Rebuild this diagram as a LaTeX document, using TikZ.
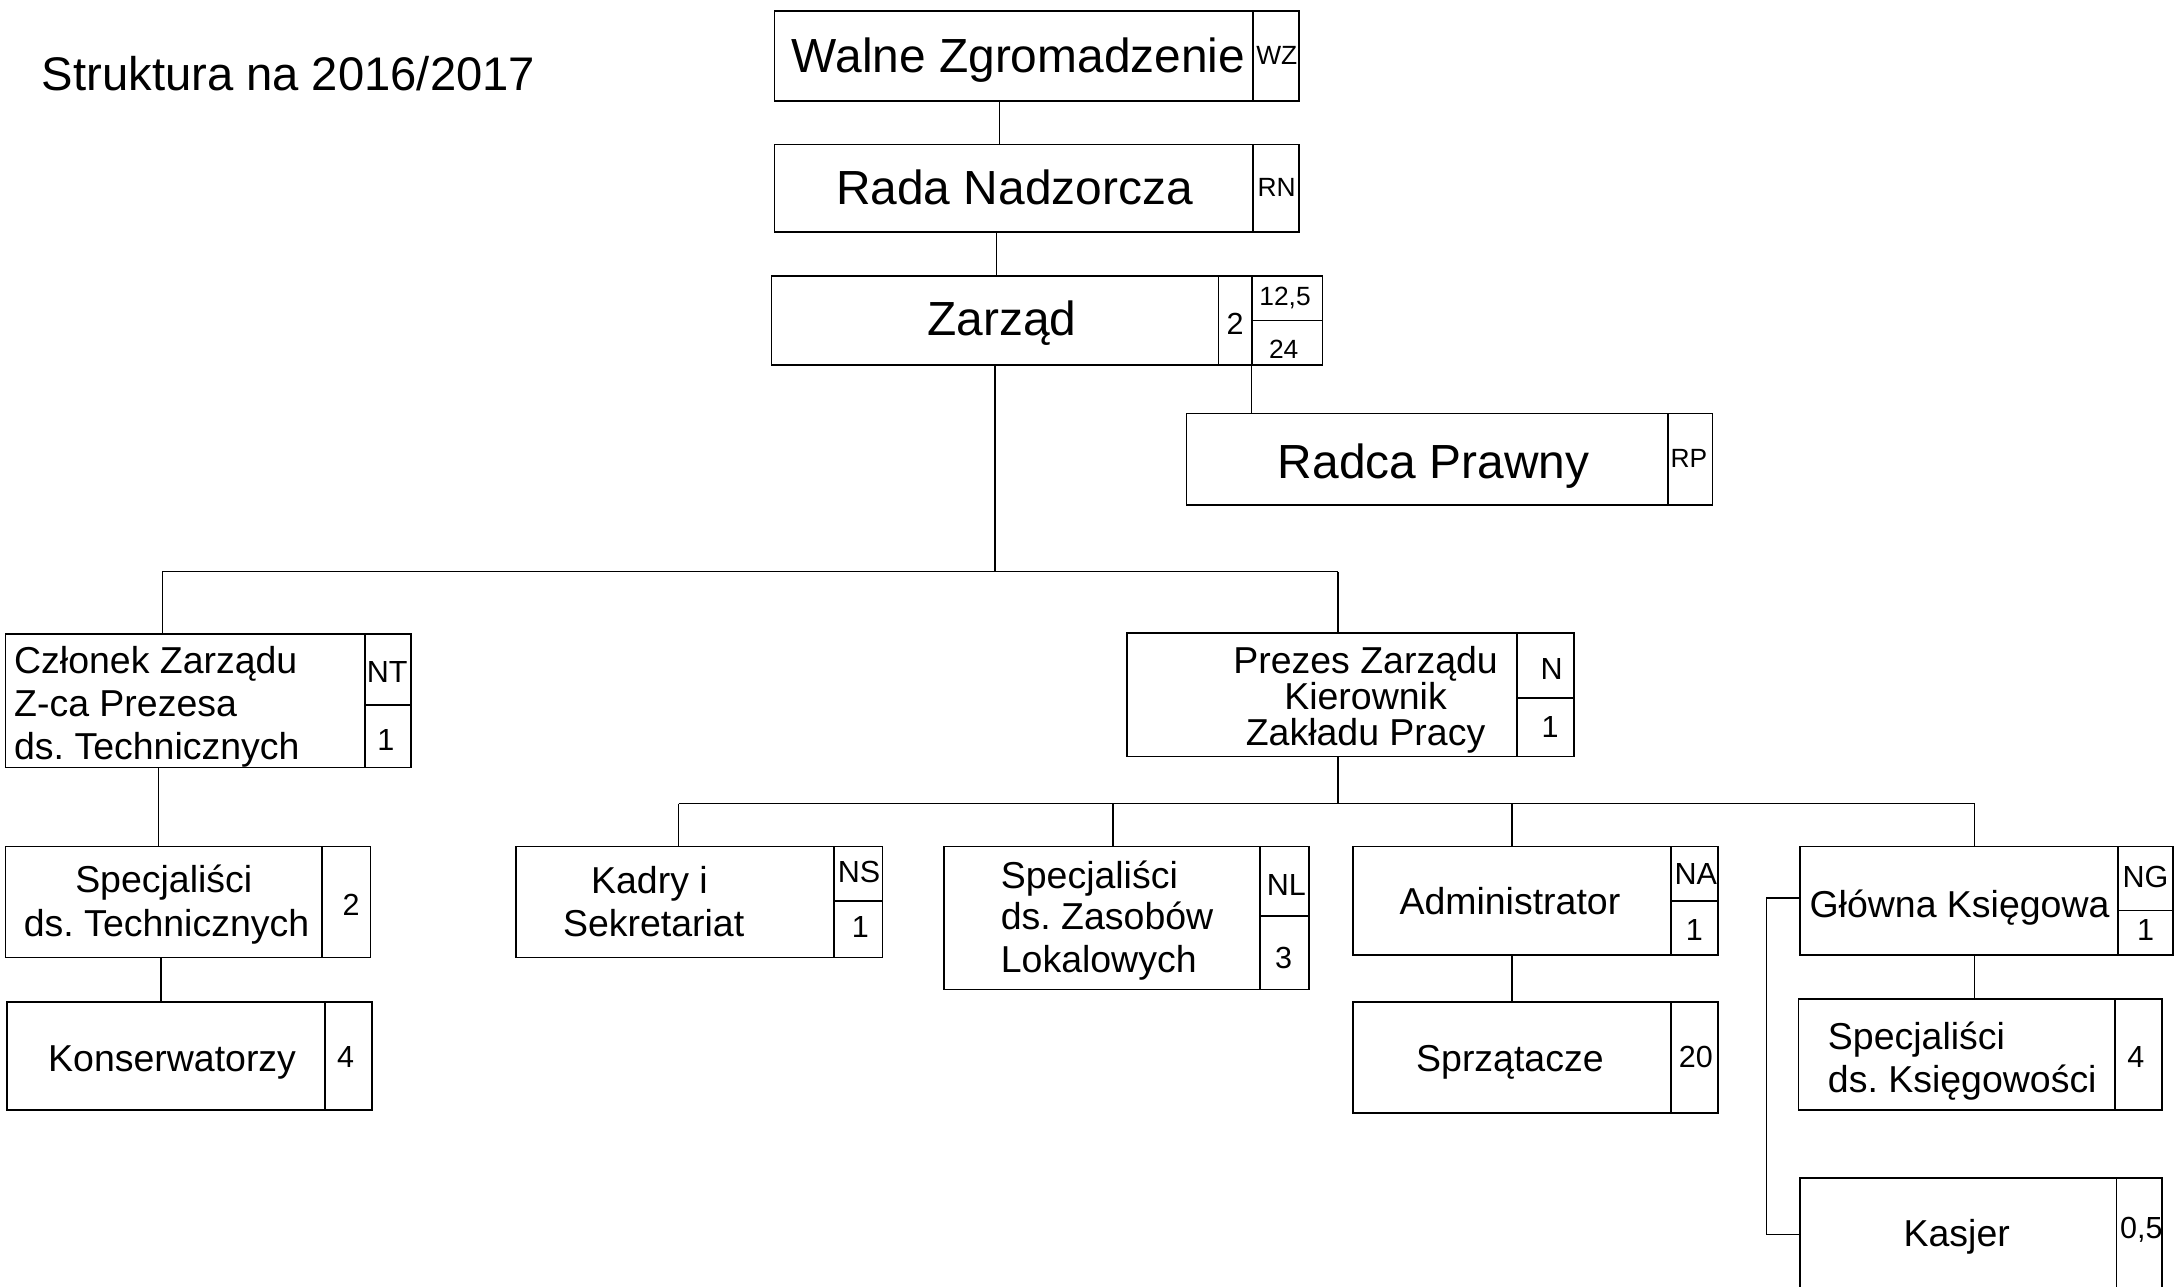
\documentclass[tikz,border=0pt]{standalone}
\usepackage{fontspec}
\setmainfont{Liberation Sans}
\frenchspacing
\tikzset{
  frame/.style={draw, line width=1.2pt, inner sep=0pt, outer sep=0pt, anchor=north west},
  big/.style={font=\fontsize{34.5}{40}\selectfont, inner sep=0pt, anchor=base},
  mid/.style={font=\fontsize{27}{31}\selectfont, inner sep=0pt, anchor=base},
  midl/.style={mid, anchor=base west},
  lab/.style={font=\fontsize{22}{24}\selectfont, inner sep=0pt},
  tinylab/.style={font=\fontsize{19}{21}\selectfont, inner sep=0pt},
  conn/.style={line width=1pt}
}
\newcommand\orgfr[5]{%
  \pgfmathsetmacro\orgfw{#4-#2}\pgfmathsetmacro\orgfh{#5-#3}%
  \node[frame, minimum width=\orgfw pt, minimum height=\orgfh pt] (#1) at (#2,#3) {};}
\begin{document}
\begin{tikzpicture}[x=1pt,y=-1pt]
\useasboundingbox[fill=white] (0,0) rectangle (1568,927);

% title
\node[font=\fontsize{34}{38}\selectfont, anchor=base west, inner sep=0pt] (title) at (30,65) {Struktura na 2016/2017};

% frames
\orgfr{wz}{558}{8}{903}{73}   \orgfr{wzc}{903}{8}{936}{73}
\orgfr{rn}{558}{104}{903}{167} \orgfr{rnc}{903}{104}{936}{167}
\orgfr{zar}{556}{199}{878}{263} \orgfr{zarc}{878}{199}{902}{263}
\orgfr{zart}{902}{199}{953}{231} \orgfr{zarb}{902}{231}{953}{263}
\orgfr{rp}{855}{298}{1202}{364} \orgfr{rpc}{1202}{298}{1234}{364}
\orgfr{nt}{4}{457}{263}{553} \orgfr{ntt}{263}{457}{296}{508} \orgfr{ntb}{263}{508}{296}{553}
\orgfr{n}{812}{456}{1093}{545} \orgfr{nnt}{1093}{456}{1134}{503} \orgfr{nnb}{1093}{503}{1134}{545}
\orgfr{spt}{4}{610}{232}{690} \orgfr{sptc}{232}{610}{267}{690}
\orgfr{kon}{5}{722}{234}{800} \orgfr{konc}{234}{722}{268}{800}
\orgfr{ns}{372}{610}{601}{690} \orgfr{nst}{601}{610}{636}{649} \orgfr{nsb}{601}{649}{636}{690}
\orgfr{nl}{680}{610}{908}{713} \orgfr{nlt}{908}{610}{943}{660} \orgfr{nlb}{908}{660}{943}{713}
\orgfr{na}{975}{610}{1204}{688} \orgfr{nat}{1204}{610}{1238}{649} \orgfr{nab}{1204}{649}{1238}{688}
\orgfr{spr}{975}{722}{1204}{802} \orgfr{sprc}{1204}{722}{1238}{802}
\orgfr{ng}{1297}{610}{1526}{688} \orgfr{ngt}{1526}{610}{1566}{656} \orgfr{ngb}{1526}{656}{1566}{688}
\orgfr{spk}{1296}{720}{1524}{800} \orgfr{spkc}{1524}{720}{1558}{800}
\orgfr{kas}{1297}{849}{1525}{930} \orgfr{kasc}{1525}{849}{1558}{930}

% texts
\node[big] (wzt) at (734,52) {Walne Zgromadzenie};
\node[tinylab] (wzl) at (920,40) {WZ};
\node[big] (rnt) at (731,147) {Rada Nadzorcza};
\node[tinylab] (rnl) at (920,135) {RN};
\node[big] (zart1) at (722,242) {Zarząd};
\node[lab] (zarl) at (890,233) {2};
\node[tinylab] (zarl1) at (926,215) {12,5};
\node[tinylab] (zarl2) at (925,252) {24};
\node[big] (rpt) at (1033,345) {Radca Prawny};
\node[tinylab] (rpl) at (1217,330) {RP};

\node[midl] (ntt1) at (10,485) {Członek Zarządu};
\node[midl] (ntt2) at (10,516) {Z-ca Prezesa};
\node[midl] (ntt3) at (10,547) {ds. Technicznych};
\node[lab] (ntl1) at (279,484) {NT};
\node[lab] (ntl2) at (278,533) {1};

\node[mid] (nt1) at (984,485) {Prezes Zarządu};
\node[mid] (nt2) at (984,511) {Kierownik};
\node[mid] (nt3) at (984,537) {Zakładu Pracy};
\node[lab] (nl1x) at (1118,482) {N};
\node[lab] (nl2x) at (1117,524) {1};

\node[mid] (spt1) at (118,643) {Specjaliści};
\node[mid] (spt2) at (120,675) {ds. Technicznych};
\node[lab] (sptl) at (253,652) {2};

\node[mid] (kont) at (124,772) {Konserwatorzy};
\node[lab] (konl) at (249,762) {4};

\node[mid] (ns1) at (468,644) {Kadry i};
\node[mid] (ns2) at (471,675) {Sekretariat};
\node[lab] (nsl1) at (619,628) {NS};
\node[lab] (nsl2) at (620,668) {1};

\node[midl] (nl1) at (721,640) {Specjaliści};
\node[midl] (nl2) at (721,670) {ds. Zasobów};
\node[midl] (nl3) at (721,701) {Lokalowych};
\node[lab] (nll1) at (927,638) {NL};
\node[lab] (nll2) at (925,690) {3};

\node[mid] (nat1) at (1088,659) {Administrator};
\node[lab] (nal1) at (1222,630) {NA};
\node[lab] (nal2) at (1221,670) {1};

\node[mid] (sprt) at (1088,772) {Sprzątacze};
\node[lab] (sprl) at (1222,762) {20};

\node[mid] (ngt1) at (1412,661) {Główna Księgowa};
\node[lab] (ngl1) at (1546,632) {NG};
\node[lab] (ngl2) at (1546,670) {1};

\node[midl] (spk1) at (1317,756) {Specjaliści};
\node[midl] (spk2) at (1317,787) {ds. Księgowości};
\node[lab] (spkl) at (1539,762) {4};

\node[mid] (kast) at (1410,898) {Kasjer};
\node[lab] (kasl) at (1543,886) {0,5};

% connectors
\coordinate (busAL) at (117,412);
\coordinate (busAR) at (964,412);
\coordinate (busBL) at (489,579);
\coordinate (busBR) at (1423,579);

\draw[conn] ([xshift=-10.5pt]wz.south) -- ([xshift=-10.5pt]wz.south |- rn.north);
\draw[conn] ([xshift=-12.5pt]rn.south) -- ([xshift=-12.5pt]rn.south |- zar.north);
\draw[conn] (zar.south) -- (zar.south |- busAL);
\draw[conn] (zarb.south west) -- (zarb.south west |- rp.north);
\draw[conn] (busAL) -- (busAR);
\draw[conn] (busAL) -- (busAL |- nt.north);
\draw[conn] (busAR) -- (busAR |- n.north);
\draw[conn] ([xshift=-19.5pt]nt.south) -- ([xshift=-19.5pt]nt.south |- spt.north);
\draw[conn] ([xshift=-2pt]spt.south) -- ([xshift=-2pt]spt.south |- kon.north);
\draw[conn] (busAR |- n.south) -- (busAR |- busBL);
\draw[conn] (busBL) -- (busBR);
\draw[conn] (busBL) -- (busBL |- ns.north);
\draw[conn] ([xshift=8pt]nl.north |- busBL) -- ([xshift=8pt]nl.north);
\draw[conn] (na.north |- busBL) -- (na.north);
\draw[conn] (busBR) -- (busBR |- ng.north);
\draw[conn] (na.south) -- (na.south |- spr.north);
\draw[conn] (busBR |- ng.south) -- (busBR |- spk.north);
\draw[conn] ([yshift=2pt]ng.west) -- ++(-24pt,0) |- (kas.west);
\end{tikzpicture}
\end{document}
